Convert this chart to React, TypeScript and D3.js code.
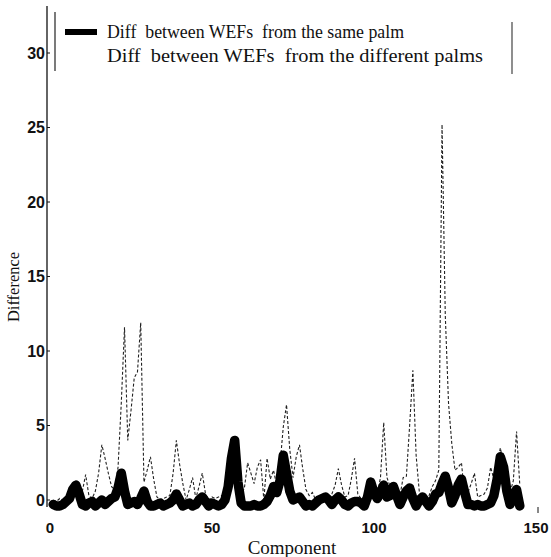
import React from 'react';
import { scaleLinear, line } from 'd3';

// components run 1..145
const samePalm = [
  -0.3, -0.4, -0.4, -0.3, -0.1, 0.1, 0.7, 1.0, 0.4, -0.3,
  -0.4, -0.2, -0.1, -0.4, -0.2, 0.0, -0.3, -0.1, 0.1, 0.2,
  0.8, 1.8, 0.6, -0.3, -0.2, -0.1, -0.3, 0.1, 0.6, -0.1,
  -0.4, -0.4, -0.3, -0.2, -0.4, -0.3, -0.2, 0.0, 0.4, 0.0,
  -0.4, -0.3, -0.2, -0.4, -0.3, 0.0, 0.2, -0.1, -0.4, -0.2,
  -0.3, -0.4, -0.3, 0.0, 0.9, 2.8, 4.0, 1.2, -0.2, -0.4,
  -0.4, -0.4, -0.3, -0.4, -0.4, -0.3, -0.1, 0.3, 0.9, 0.5,
  1.3, 3.0, 1.8, 0.6, 0.0, 0.1, 0.2, -0.1, -0.4, -0.3,
  -0.4, -0.2, 0.0, 0.1, 0.2, 0.0, -0.3, 0.0, 0.2, 0.0,
  -0.3, -0.4, -0.2, -0.1, -0.1, -0.2, -0.4, 0.2, 1.2, 0.5,
  0.1, 0.5, 1.0, 0.2, 0.3, 0.9, 0.3, -0.3, 0.2, 0.6,
  0.8, 0.1, -0.4, 0.0, 0.2, -0.1, -0.4, -0.1, 0.4, 0.5,
  1.1, 1.6, 0.8, -0.2, 0.3, 1.0, 1.4, 0.5, -0.3, -0.3,
  -0.4, -0.3, -0.4, -0.4, -0.3, -0.2, 0.3, 1.4, 2.9, 2.2,
  0.6, -0.3, 0.3, 0.7, -0.4,
];

const diffPalms = [
  0.0, -0.1, 0.1, 0.0, 0.2, 0.3, 0.6, 0.8, 0.4, 0.6,
  1.7, 0.3, 0.1, 0.6, 1.8, 3.7, 2.8, 1.8, 0.9, 0.7,
  2.2, 6.5, 11.6, 4.0, 6.0, 8.2, 8.6, 11.9, 1.2, 2.0,
  2.9, 1.4, 0.2, 0.0, 0.1, 0.2, 0.3, 1.8, 4.0, 2.4,
  1.1, 0.0, 0.7, 1.5, 0.1, 0.9, 1.8, 0.4, 0.0, 0.2,
  0.1, 0.2, 0.3, 0.5, 0.8, 1.4, 2.0, 0.7, 0.3, 0.8,
  2.5, 1.8, 1.1, 2.2, 2.7, 0.0, 2.8, 1.4, 2.0, 0.9,
  2.4, 4.9, 6.4, 3.4, 1.5, 2.9, 3.7, 2.1, 0.7, 0.3,
  0.5, 0.0, 0.2, 0.1, 0.3, 0.2, 0.4, 1.0, 2.1, 1.0,
  0.2, 0.3, 1.4, 2.8, 0.4, 0.1, 0.2, 0.4, 0.6, 0.5,
  0.4, 1.5, 5.2, 1.5, 0.9, 0.5, 0.5, 0.3, 1.5, 1.6,
  5.0, 8.7, 3.0, 0.5, 0.3, 0.2, 0.3, 0.9, 1.3, 2.0,
  25.2, 12.4, 6.5, 3.8, 2.0, 2.2, 2.5, 0.2, 0.5, 1.1,
  1.8, 0.2, 0.3, 0.4, 0.8, 2.2, 1.4, 2.4, 3.5, 2.4,
  0.9, 0.5, 1.3, 4.6, 1.0,
];

const xTicks = [0, 50, 100, 150];
const yTicks = [0, 5, 10, 15, 20, 25, 30];
const legendLabels = [
  'Diff  between WEFs  from the same palm',
  'Diff  between WEFs  from the different palms',
];
const legendWidths = [297, 376];

export default function App() {
  const x = scaleLinear().domain([0, 150]).range([50, 536]);
  const y = scaleLinear().domain([0, 30]).range([500, 53]);

  const path = line<number>()
    .x((_, i) => x(i + 1))
    .y(d => y(d));

  const axisX = x(0) - 3;

  return (
    <svg
      width={551}
      height={557}
      style={{ position: 'absolute', left: 0, top: 0, background: '#fff' }}
    >
      {/* y axis */}
      <line x1={axisX} x2={axisX} y1={6} y2={507} stroke="#111" strokeWidth={1.3} />
      {yTicks.map(t => (
        <g key={t}>
          <line x1={axisX} x2={axisX + 3} y1={y(t)} y2={y(t)} stroke="#111" />
          <text
            x={axisX - 2}
            y={y(t)}
            dy="0.36em"
            textAnchor="end"
            fontFamily="'Liberation Sans', Arial, sans-serif"
            fontWeight="bold"
            fontSize={16}
            fill="#111"
          >
            {t}
          </text>
        </g>
      ))}
      {xTicks.map(t => (
        <text
          key={t}
          x={x(t)}
          y={533}
          textAnchor="middle"
          fontFamily="'Liberation Sans', Arial, sans-serif"
          fontWeight="bold"
          fontSize={15}
          fill="#111"
        >
          {t}
        </text>
      ))}
      <line x1={x(150) + 2} x2={x(150) + 2} y1={507} y2={513} stroke="#111" />

      {/* series */}
      <path
        d={path(diffPalms) ?? ''}
        fill="none"
        stroke="#222"
        strokeWidth={1.1}
        strokeDasharray="3,2"
      />
      <path
        d={path(samePalm) ?? ''}
        fill="none"
        stroke="#000"
        strokeWidth={9.5}
        strokeLinejoin="round"
        strokeLinecap="round"
      />

      {/* legend */}
      <line x1={55} x2={55} y1={12} y2={71} stroke="#222" strokeWidth={1.2} />
      <line x1={512} x2={512} y1={22} y2={74} stroke="#444" strokeWidth={1.2} />
      <line x1={65} x2={97} y1={32} y2={32} stroke="#000" strokeWidth={6} />
      {legendLabels.map((lbl, i) => (
        <text
          key={lbl}
          x={107}
          y={38 + i * 24}
          fontFamily="'Liberation Serif', 'Times New Roman', serif"
          fontSize={18}
          fill="#111"
          textLength={legendWidths[i]}
          lengthAdjust="spacingAndGlyphs"
          style={{ whiteSpace: 'pre' }}
        >
          {lbl}
        </text>
      ))}

      {/* axis titles */}
      <text
        x={292}
        y={554}
        textAnchor="middle"
        fontFamily="'Liberation Serif', 'Times New Roman', serif"
        fontSize={19}
        fill="#111"
      >
        Component
      </text>
      <text
        transform="translate(19,287) rotate(-90)"
        textAnchor="middle"
        fontFamily="'Liberation Serif', 'Times New Roman', serif"
        fontSize={16.5}
        fill="#111"
      >
        Difference
      </text>
    </svg>
  );
}
